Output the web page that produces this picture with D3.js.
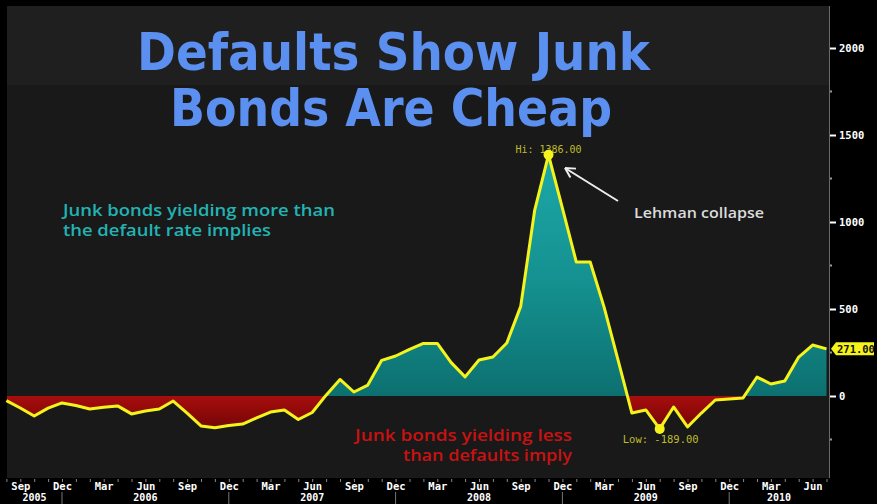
<!DOCTYPE html>
<html><head><meta charset="utf-8">
<script src="https://cdn.jsdelivr.net/npm/d3@7"></script>
<style>html,body{margin:0;padding:0;background:#000;} svg{display:block}</style>
</head><body>
<svg id="chart" width="877" height="504"></svg>
<script>
// ---- DATA ----
const months = [
 "2005-08","2005-09","2005-10","2005-11","2005-12",
 "2006-01","2006-02","2006-03","2006-04","2006-05","2006-06","2006-07","2006-08","2006-09","2006-10","2006-11","2006-12",
 "2007-01","2007-02","2007-03","2007-04","2007-05","2007-06","2007-07","2007-08","2007-09","2007-10","2007-11","2007-12",
 "2008-01","2008-02","2008-03","2008-04","2008-05","2008-06","2008-07","2008-08","2008-09","2008-10","2008-11","2008-12",
 "2009-01","2009-02","2009-03","2009-04","2009-05","2009-06","2009-07","2009-08","2009-09","2009-10","2009-11","2009-12",
 "2010-01","2010-02","2010-03","2010-04","2010-05","2010-06","2010-07"];
const spread = [
 -27,-69,-115,-70,-40,
 -55,-75,-65,-57,-103,-86,-75,-29,-98,-172,-183,-170,
 -161,-126,-92,-80,-135,-95,5,95,23,63,205,230,
 268,302,302,192,110,207,224,305,515,1065,1386,1080,
 770,770,511,207,-98,-80,-189,-63,-178,-98,-23,-17,
 -11,109,69,86,224,293,271];
const monthTickLabels = ["Sep","Dec","Mar","Jun","Sep","Dec","Mar","Jun","Sep","Dec",
                         "Mar","Jun","Sep","Dec","Mar","Jun","Sep","Dec","Mar","Jun"];
const yearLabels = ["2005","2006","2007","2008","2009","2010"];
const yTicks = [0,500,1000,1500,2000];
const yMinorTicks = [-250,250,750,1250,1750];
const titleLines = ["Defaults Show Junk","Bonds Are Cheap"];
const hiText = "Hi: 1386.00", lowText = "Low: -189.00", lastText = "271.00";

// ---- LAYOUT ----
const W = 877, H = 504;
const plot = {l:7, r:829, t:6, b:478};
const svg = d3.select("#chart");
const x = d3.scaleLinear().domain([0, months.length-1]).range([6.4, 826.5]);
const y = d3.scaleLinear().domain([0, 2000]).range([396, 48]);
const y0 = y(0);

svg.append("rect").attr("width",W).attr("height",H).attr("fill","#000");
svg.append("rect").attr("x",plot.l).attr("y",plot.t).attr("width",plot.r-plot.l).attr("height",plot.b-plot.t).attr("fill","#191919");
svg.append("rect").attr("x",plot.l).attr("y",plot.t).attr("width",plot.r-plot.l).attr("height",85-plot.t).attr("fill","#1f1f1f");

const defs = svg.append("defs");
const tg = defs.append("linearGradient").attr("id","teal").attr("gradientUnits","userSpaceOnUse")
  .attr("x1",0).attr("x2",0).attr("y1",150).attr("y2",y0);
tg.append("stop").attr("offset",0).attr("stop-color","#1ca9a9");
tg.append("stop").attr("offset",0.55).attr("stop-color","#14908f");
tg.append("stop").attr("offset",1).attr("stop-color","#0d7070");
const rg = defs.append("linearGradient").attr("id","red").attr("gradientUnits","userSpaceOnUse")
  .attr("x1",0).attr("x2",0).attr("y1",y0).attr("y2",y(-200));
rg.append("stop").attr("offset",0).attr("stop-color","#a80d0d");
rg.append("stop").attr("offset",1).attr("stop-color","#700505");
defs.append("clipPath").attr("id","above").append("rect")
  .attr("x",plot.l).attr("y",plot.t).attr("width",plot.r-plot.l).attr("height",y0-plot.t);
defs.append("clipPath").attr("id","below").append("rect")
  .attr("x",plot.l).attr("y",y0).attr("width",plot.r-plot.l).attr("height",plot.b-y0);

const area = d3.area().x((d,i)=>x(i)).y0(y0).y1(d=>y(d));
svg.append("path").datum(spread).attr("d",area).attr("fill","url(#teal)").attr("clip-path","url(#above)");
svg.append("path").datum(spread).attr("d",area).attr("fill","url(#red)").attr("clip-path","url(#below)");

const line = d3.line().x((d,i)=>x(i)).y(d=>y(d));
svg.append("path").datum(spread).attr("d",line).attr("fill","none")
  .attr("stroke","#f4f41c").attr("stroke-width",3).attr("stroke-linejoin","round");

// Title
const titleY = [70, 126], titleX = [137, 170], titleW = [513, 442];
titleLines.forEach((t,i)=>{
  svg.append("text").attr("x",titleX[i]).attr("y",titleY[i]).text(t)
    .attr("font-family","'DejaVu Sans Condensed','DejaVu Sans',sans-serif").attr("font-weight","bold")
    .attr("font-size",51).attr("fill","#5b8ff0")
    .attr("textLength",titleW[i]).attr("lengthAdjust","spacingAndGlyphs");
});

function label(t, xx, yy, w, fs, col, anchor){
  return svg.append("text").attr("x",xx).attr("y",yy).text(t)
    .attr("font-family","'Open Sans','DejaVu Sans',sans-serif").attr("font-size",fs).attr("font-weight",600)
    .attr("fill",col).attr("text-anchor",anchor||"start")
    .attr("textLength",w).attr("lengthAdjust","spacingAndGlyphs");
}
label("Junk bonds yielding more than", 63, 216, 272, 15.5, "#22b3b3");
label("the default rate implies", 63, 236, 208, 15.5, "#22b3b3");
label("Junk bonds yielding less", 572, 441, 217, 16, "#c81212", "end");
label("than defaults imply", 572, 461, 169, 16, "#c81212", "end");
label("Lehman collapse", 634, 218, 130, 14.5, "#dcdcdc");

// Arrow
const a1 = [618,201], a2 = [565,168];
svg.append("line").attr("x1",a1[0]).attr("y1",a1[1]).attr("x2",a2[0]).attr("y2",a2[1])
  .attr("stroke","#eeeeee").attr("stroke-width",2);
const ang = Math.atan2(a1[1]-a2[1], a1[0]-a2[0]);
[-0.5,0.5].forEach(da=>{
  svg.append("line").attr("x1",a2[0]).attr("y1",a2[1])
    .attr("x2",a2[0]+11*Math.cos(ang+da)).attr("y2",a2[1]+11*Math.sin(ang+da))
    .attr("stroke","#eeeeee").attr("stroke-width",2);
});

// Hi / Low markers
const iHi = spread.indexOf(d3.max(spread)), iLo = spread.lastIndexOf(d3.min(spread));
const mono = "'DejaVu Sans Mono',monospace";
svg.append("text").attr("x",x(iHi)).attr("y",y(spread[iHi])-2).text(hiText)
  .attr("font-family",mono).attr("font-size",10).attr("fill","#bdbd2c").attr("text-anchor","middle");
svg.append("text").attr("x",x(iLo)+1).attr("y",y(spread[iLo])+14).text(lowText)
  .attr("font-family",mono).attr("font-size",10.5).attr("fill","#bdbd2c").attr("text-anchor","middle");
[iHi,iLo].forEach(i=>svg.append("circle").attr("cx",x(i)).attr("cy",y(spread[i])).attr("r",5).attr("fill","#f4f41c"));

// Right axis
svg.append("line").attr("x1",plot.r+0.5).attr("x2",plot.r+0.5).attr("y1",plot.t).attr("y2",plot.b)
  .attr("stroke","#6a6a6a").attr("stroke-width",1);
const yAxis = d3.axisRight(y).tickValues(yTicks).tickSize(6).tickPadding(3).tickFormat(d3.format("d"));
const ya = svg.append("g").attr("transform",`translate(${plot.r+1},0)`).call(yAxis);
ya.select(".domain").remove();
ya.selectAll("line").attr("stroke","#fff").attr("stroke-width",2);
ya.selectAll("text").attr("fill","#fff").attr("font-family",mono).attr("font-weight","bold").attr("font-size",10.5);
yMinorTicks.forEach(v=>svg.append("rect").attr("x",plot.r+1).attr("y",y(v)-1).attr("width",2).attr("height",2).attr("fill","#999"));

// last value tag
const ly = y(spread[spread.length-1]);
svg.append("path").attr("d",`M${plot.r+2},${ly} L${plot.r+7},${ly-6.5} L${W-3},${ly-6.5} L${W-3},${ly+6.5} L${plot.r+7},${ly+6.5} Z`)
  .attr("fill","#f4f41c");
svg.append("text").attr("x",plot.r+8).attr("y",ly+4).text(lastText)
  .attr("font-family",mono).attr("font-weight","bold").attr("font-size",10.5).attr("fill","#111");

// Bottom axis
const xMinor = d3.axisBottom(x).tickValues(d3.range(months.length)).tickSize(3).tickFormat("");
const xa = svg.append("g").attr("transform",`translate(0,${plot.b+1})`).call(xMinor);
xa.select(".domain").remove();
xa.selectAll("line").attr("stroke","#888");
const qIdx = monthTickLabels.map((d,k)=>1+3*k);
const xLab = d3.axisBottom(x).tickValues(qIdx).tickSize(0).tickPadding(0).tickFormat((d,k)=>monthTickLabels[k]);
const xl = svg.append("g").attr("transform",`translate(0,${plot.b+4})`).call(xLab);
xl.select(".domain").remove();
xl.selectAll("text").attr("fill","#fff").attr("font-family",mono).attr("font-weight","bold").attr("font-size",10.5).attr("dy","0.75em");

// year boundaries (December points) and year labels
const decIdx = months.map((m,i)=>m.endsWith("-12")?i:-1).filter(i=>i>=0);
const bounds = [plot.l, ...decIdx.map(i=>x(i)), plot.r];
decIdx.forEach(i=>svg.append("line").attr("x1",x(i)).attr("x2",x(i)).attr("y1",492).attr("y2",504).attr("stroke","#777"));
yearLabels.forEach((yr,k)=>{
  svg.append("text").attr("x",(bounds[k]+bounds[k+1])/2).attr("y",501).text(yr)
    .attr("font-family",mono).attr("font-weight","bold").attr("font-size",10).attr("fill","#fff").attr("text-anchor","middle");
});
</script>
</body></html>
